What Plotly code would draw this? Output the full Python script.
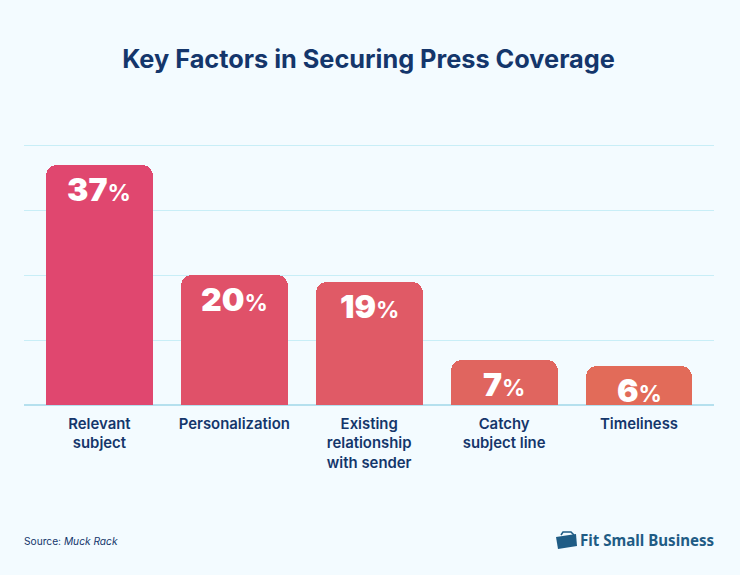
import plotly.graph_objects as go

categories = ["Relevant<br>subject", "Personalization", "Existing<br>relationship<br>with sender", "Catchy<br>subject line", "Timeliness"]
values = [37, 20, 19, 7, 6]
bar_colors = ["#E0476F", "#E05169", "#E05A66", "#E0655F", "#E26B59"]
grid_values = [0, 10, 20, 30, 40]
NAVY = "#14366B"
BG = "#F3FBFF"
LOGO = "#1F5C85"

W, H = 740, 575
Y_TOP = 40.3
L, R, B = 24, 714, 405.5
T = B - Y_TOP * 6.5
xs = list(range(len(values)))
fig = go.Figure(go.Bar(
    x=xs, y=values, width=0.793,
    marker=dict(color=bar_colors, cornerradius=11, line=dict(width=0)),
    hoverinfo="skip",
))

for x, v in zip(xs, values):
    fig.add_annotation(
        x=x, y=v, xref="x", yref="y", yanchor="top", yshift=-3, showarrow=False,
        text=f'{v}<span style="font-size:23px;font-weight:700">%</span>',
        font=dict(family="Inter", size=32, color="white", weight=900),
    )

def pp(x, y):
    return (x - L) / (R - L), (B - y) / (B - T)

def path(points, close=True):
    s = "M " + " L ".join(f"{pp(a, b)[0]:.5f},{pp(a, b)[1]:.5f}" for a, b in points)
    return s + " Z" if close else s

fig.add_shape(type="path", xref="paper", yref="paper", line=dict(color=LOGO, width=1.5),
              path=path([(561, 536), (563, 533), (571, 533), (574, 536)], close=False))
fig.add_shape(type="path", xref="paper", yref="paper", fillcolor=LOGO, line=dict(width=0),
              path=path([(556, 538), (576, 535), (577, 547), (558, 550)]))

sx, sy = pp(24, 541)
fig.add_annotation(xref="paper", yref="paper", x=sx, y=sy, xanchor="left", yanchor="middle",
                   xshift=-2, yshift=-1, showarrow=False, text="Source: <i>Muck Rack</i>",
                   font=dict(family="Inter", size=10.2, color=NAVY))
lx, ly = pp(714, 541)
fig.add_annotation(xref="paper", yref="paper", x=lx, y=ly, xanchor="right", yanchor="middle",
                   xshift=2, showarrow=False, text="<b>Fit Small Business</b>",
                   font=dict(family="Noto Sans", size=15.1, color=LOGO))

fig.update_layout(
    width=W, height=H, autosize=False,
    paper_bgcolor=BG, plot_bgcolor=BG,
    margin=dict(l=L, r=W - R, t=T, b=H - B, pad=0),
    showlegend=False,
    title=dict(text="<b>Key Factors in Securing Press Coverage</b>", x=0.498, xanchor="center",
               y=1 - 59 / H, yanchor="middle",
               font=dict(family="Inter", size=25.3, color=NAVY)),
    xaxis=dict(range=[-0.559, 4.556], tickvals=xs, ticktext=categories, ticks="", showgrid=False,
               zeroline=False, showline=False, ticklabelstandoff=8,
               tickfont=dict(family="Inter", size=14.9, color=NAVY, weight=600)),
    yaxis=dict(range=[0, Y_TOP], tickvals=grid_values, showticklabels=False, ticks="",
               gridcolor="#C8EEF7", gridwidth=1, zeroline=True, zerolinecolor="#B5E0EE", zerolinewidth=1.5),
    bargap=0,
)
fig.write_html("out.html", config={"displayModeBar": False}, post_script="document.body.style.margin='0';")
